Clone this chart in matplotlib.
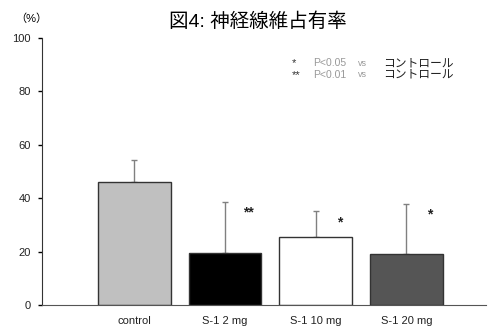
import matplotlib
matplotlib.use('Agg')
from matplotlib import pyplot as plt
import numpy as np

plt.rcParams['font.family'] = ['Liberation Sans', 'Noto Sans CJK JP']

groups = ['control', 'S-1 2 mg', 'S-1 10 mg', 'S-1 20 mg']
means = [46.2, 19.6, 25.3, 19.0]
sd_upper = [8.1, 19.1, 10.0, 18.8]
marks = ['', '**', '*', '*']
mark_y = [0, 34.5, 31.0, 33.7]
colors = ['#c0c0c0', '#000000', '#ffffff', '#555555']
yticks = [0, 20, 40, 60, 80, 100]

fig = plt.figure(figsize=(4.88, 3.30), dpi=100)
ax = fig.add_axes([0.086, 0.076, 0.91, 0.809])

x = np.arange(len(groups))
ax.bar(x, means, width=0.8, color=colors, edgecolor='#333333', linewidth=1.0, zorder=2)
ax.errorbar(x, means, yerr=[np.zeros(len(means)), sd_upper], fmt='none',
            ecolor='#808080', elinewidth=1.0, capsize=2, capthick=1.0, zorder=1)

# significance stars just right of the error bars
for i, m in enumerate(marks):
    if m:
        ax.text(x[i] + 0.26, mark_y[i], m, ha='center', va='center', fontsize=10,
                fontweight='bold', color='#222222')

ax.set_xlim(-1.02, 3.88)
ax.set_ylim(0, 100)
ax.set_yticks(yticks)
ax.set_xticks(x)
ax.set_xticklabels(groups, fontsize=8, color='#222222')
ax.tick_params(axis='x', length=0, pad=8)
ax.tick_params(axis='y', direction='out', length=3, labelsize=8, width=1, pad=5,
               labelcolor='#222222')
for s in ['top', 'right']:
    ax.spines[s].set_visible(False)
ax.spines['left'].set_color('#333333')
ax.spines['bottom'].set_color('#555555')

fig.text(0.065, 0.945, '（%）', fontsize=8, ha='center', va='center')
fig.text(0.529, 0.933, '図4: 神経線維占有率', fontsize=14, ha='center', va='center')

# legend for the stars
fig.text(0.598, 0.809, '*', fontsize=8, color='#333333', va='center')
fig.text(0.641, 0.809, 'P<0.05', fontsize=7.5, color='#999999', va='center')
fig.text(0.733, 0.809, 'vs', fontsize=6.5, color='#999999', va='center')
fig.text(0.785, 0.809, 'コントロール', fontsize=8.5, color='#222222', va='center')
fig.text(0.598, 0.773, '**', fontsize=8, color='#333333', va='center')
fig.text(0.641, 0.773, 'P<0.01', fontsize=7.5, color='#999999', va='center')
fig.text(0.733, 0.773, 'vs', fontsize=6.5, color='#999999', va='center')
fig.text(0.785, 0.773, 'コントロール', fontsize=8.5, color='#222222', va='center')

fig.savefig('out.png', dpi=100)
